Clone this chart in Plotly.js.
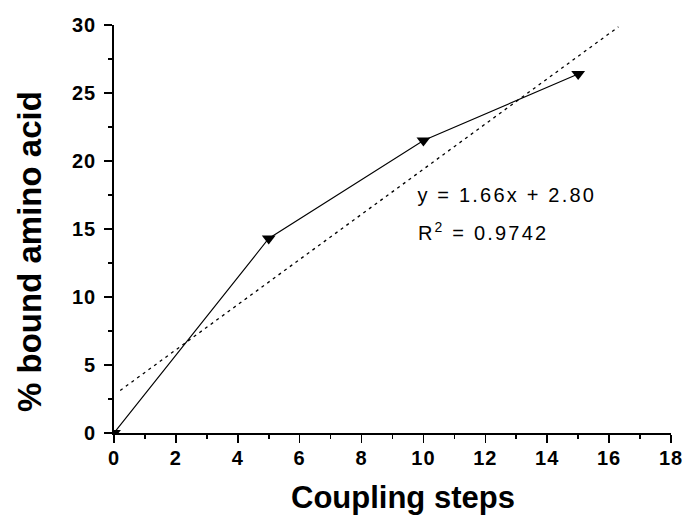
<!DOCTYPE html>
<html><head><meta charset="utf-8">
<script src="https://cdn.plot.ly/plotly-3.0.1.min.js"></script>
<style>html,body{margin:0;padding:0;background:#fff}#c{width:687px;height:517px}
.xtick text,.ytick text{letter-spacing:1px}
</style>
</head><body><div id="c"></div>
<script>
const steps = [0, 5, 10, 15];
const bound = [0, 14.3, 21.5, 26.4];
const fitX = [0.2, 16.3];
const fitY = [3.13, 29.86];
const xTicks = [0, 2, 4, 6, 8, 10, 12, 14, 16, 18];
const yTicks = [0, 5, 10, 15, 20, 25, 30];
const eqText = "y = 1.66x + 2.80";
const r2Text = "R<sup>2</sup> = 0.9742";
const xTitle = "Coupling steps";
const yTitle = "% bound amino acid";

const FAM = 'Liberation Sans, Arial, sans-serif';
const data = [
  {x: fitX, y: fitY, mode: 'lines', line: {color: '#000', width: 1.3, dash: '3px,4px'}, hoverinfo: 'skip'},
  {x: steps, y: bound, mode: 'lines+markers', line: {color: '#000', width: 1.1},
   marker: {symbol: 'triangle-down', size: 12, color: '#000'}}
];
const layout = {
  width: 687, height: 517,
  margin: {l: 114, r: 16, t: 25, b: 84},
  showlegend: false,
  paper_bgcolor: '#fff', plot_bgcolor: '#fff',
  font: {family: FAM, color: '#000'},
  xaxis: {
    range: [0, 18], tickmode: 'array', tickvals: xTicks, ticktext: xTicks.map(String),
    ticks: 'outside', ticklen: 8, tickwidth: 1.6, tickcolor: '#000',
    minor: {dtick: 1, ticks: 'outside', ticklen: 4, tickwidth: 1.6, tickcolor: '#000'},
    showline: true, linecolor: '#000', linewidth: 1.8, showgrid: false, zeroline: false,
    tickfont: {family: FAM, size: 20, color: '#000', weight: 'bold'}, ticklabelstandoff: -2
  },
  yaxis: {
    range: [0, 30], tickmode: 'array', tickvals: yTicks, ticktext: yTicks.map(String),
    ticks: 'outside', ticklen: 8, tickwidth: 1.6, tickcolor: '#000',
    minor: {dtick: 2.5, ticks: 'outside', ticklen: 4, tickwidth: 1.6, tickcolor: '#000'},
    showline: true, linecolor: '#000', linewidth: 1.8, showgrid: false, zeroline: false,
    tickfont: {family: FAM, size: 20, color: '#000', weight: 'bold'}, ticklabelstandoff: 4
  },
  annotations: [
    {x: 10.32, y: 17.5, xref: 'x', yref: 'y', text: eqText, showarrow: false, xanchor: 'left', yanchor: 'middle',
     font: {family: FAM, size: 20, color: '#000'}},
    {x: 10.15, y: 14.8, xref: 'x', yref: 'y', text: r2Text, showarrow: false, xanchor: 'left', yanchor: 'middle',
     font: {family: FAM, size: 20, color: '#000'}},
    {x: 0.519, y: -0.159, xref: 'paper', yref: 'paper', text: xTitle, showarrow: false, xanchor: 'center', yanchor: 'middle',
     font: {family: FAM, size: 31, color: '#000', weight: 'bold'}},
    {x: -0.1526, y: 0.4436, xref: 'paper', yref: 'paper', text: yTitle, showarrow: false, textangle: -90, xanchor: 'center', yanchor: 'middle',
     font: {family: FAM, size: 33, color: '#000', weight: 'bold'}}
  ]
};
Plotly.newPlot('c', data, layout, {displayModeBar: false, staticPlot: true}).then(function () {
  const t = document.querySelectorAll('#c .annotation-text');
  for (let i = 0; i < 2 && i < t.length; i++) t[i].style.letterSpacing = '2.2px';
});
</script></body></html>
